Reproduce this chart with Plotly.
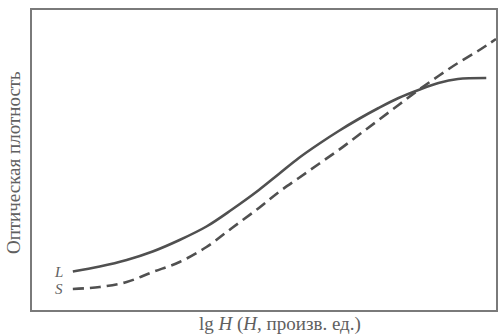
import plotly.graph_objects as go

# Characteristic curves: optical density vs lg H (arbitrary units)
lg_h = [0.88, 1.46, 2.04, 2.60, 3.18, 3.76, 4.31, 4.89, 5.32,
        5.75, 6.18, 6.61, 7.04, 7.47, 7.90, 8.33, 8.76, 9.18]

lg_h_L = lg_h + [9.79]
dens_L = [0.385, 0.435, 0.50, 0.585, 0.70, 0.835, 1.005, 1.20, 1.36,
          1.52, 1.66, 1.79, 1.91, 2.02, 2.12, 2.20, 2.27, 2.31, 2.32]

lg_h_S = lg_h + [9.61, 10.0]
dens_S = [0.21, 0.23, 0.28, 0.38, 0.48, 0.63, 0.82, 1.02, 1.18,
          1.32, 1.46, 1.60, 1.75, 1.90, 2.05, 2.20, 2.34, 2.47, 2.59, 2.71]

curve_names = ["L", "S"]

line_col = "#505050"
frame_col = "#7a7a7a"
text_col = "#606060"
serif = "Liberation Serif, Times New Roman, serif"

fig = go.Figure()
fig.add_trace(go.Scatter(x=lg_h_L, y=dens_L, mode="lines", name=curve_names[0],
                         line=dict(color=line_col, width=2.6, shape="spline", smoothing=1.0)))
fig.add_trace(go.Scatter(x=lg_h_S, y=dens_S, mode="lines", name=curve_names[1],
                         line=dict(color=line_col, width=2.6, shape="spline", smoothing=1.0,
                                   dash="11px,6px")))

# Curve labels placed to the left of each curve's start
for xs, ys, nm in [(lg_h_L, dens_L, curve_names[0]), (lg_h_S, dens_S, curve_names[1])]:
    fig.add_annotation(x=xs[0], y=ys[0], text=nm, showarrow=False, xanchor="right",
                       xshift=-8, yshift=0,
                       font=dict(family=serif, size=15, color=text_col, style="italic"))

fig.add_annotation(xref="paper", yref="paper", x=-0.041, y=0.493, xanchor="center",
                   yanchor="middle", text="Оптическая плотность",
                   textangle=-90, showarrow=False,
                   font=dict(family=serif, size=19, color=text_col))
fig.add_annotation(xref="paper", yref="paper", x=0.535, y=-0.047, xanchor="center",
                   yanchor="middle",
                   text="lg <i>H</i> (<i>H</i>, произв. ед.)", showarrow=False,
                   font=dict(family=serif, size=19, color=text_col))

axis_common = dict(showline=True, linecolor=frame_col, linewidth=1.6, mirror=True,
                   showgrid=False, zeroline=False, showticklabels=False, ticks="")
fig.update_xaxes(range=[0, 10], **axis_common)
fig.update_yaxes(range=[0, 3], **axis_common)

fig.update_layout(width=499, height=336, margin=dict(l=32, r=1, t=10, b=26),
                  paper_bgcolor="white", plot_bgcolor="white", showlegend=False)

fig.write_html("out.html")
